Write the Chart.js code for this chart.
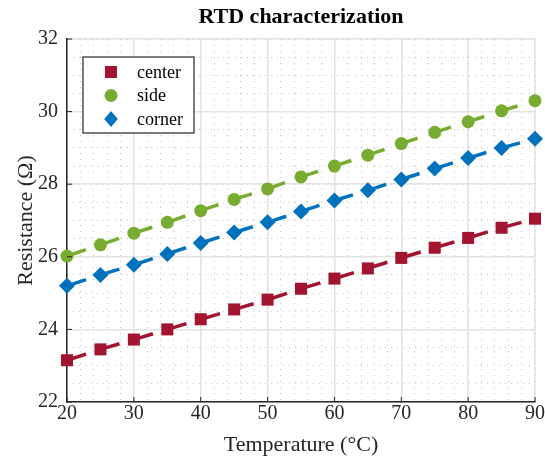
<!DOCTYPE html>
<html>
<head>
<meta charset="utf-8">
<script src="https://cdn.jsdelivr.net/npm/chart.js@4/dist/chart.umd.min.js"></script>
<style>
  html, body { margin: 0; padding: 0; background: #fff; }
  #wrap { width: 545px; height: 462px; }
</style>
</head>
<body>
<div id="wrap"><canvas id="rtdChart"></canvas></div>
<script>
const temperatures = [20, 25, 30, 35, 40, 45, 50, 55, 60, 65, 70, 75, 80, 85, 90];
const centerRes = [23.15, 23.45, 23.72, 24.0, 24.28, 24.55, 24.82, 25.12, 25.4, 25.68, 25.97, 26.25, 26.52, 26.8, 27.05];
const sideRes = [26.02, 26.33, 26.65, 26.95, 27.27, 27.58, 27.87, 28.2, 28.5, 28.8, 29.12, 29.43, 29.72, 30.02, 30.3];
const cornerRes = [25.2, 25.5, 25.78, 26.08, 26.38, 26.67, 26.95, 27.25, 27.55, 27.83, 28.13, 28.43, 28.72, 29.0, 29.25];
const seriesNames = ["center", "side", "corner"];
const seriesColors = ["#A2142F", "#77AC30", "#0072BD"];
const seriesShapes = ["rect", "circle", "rectRot"];
const seriesRadius = [8.5, 6.5, 8];

const FONT = "'Liberation Serif', 'Times New Roman', serif";

function toPoints(ys) {
  return temperatures.map((t, i) => ({ x: t, y: ys[i] }));
}

const allSeries = [centerRes, sideRes, cornerRes];
const datasets = allSeries.map((ys, i) => ({
  label: seriesNames[i],
  data: toPoints(ys),
  borderColor: seriesColors[i],
  backgroundColor: seriesColors[i],
  borderWidth: 3.5,
  borderDash: [20, 15],
  pointStyle: seriesShapes[i],
  pointRadius: seriesRadius[i],
  pointBorderWidth: 0,
  pointBackgroundColor: seriesColors[i],
  tension: 0,
  clip: false,
}));

// draws a point shape the same way for the legend
function drawMarker(ctx, shape, x, y, r, color) {
  ctx.save();
  ctx.fillStyle = color;
  ctx.beginPath();
  if (shape === "rect") {
    const s = Math.SQRT1_2 * r;
    ctx.rect(x - s, y - s, 2 * s, 2 * s);
  } else if (shape === "circle") {
    ctx.arc(x, y, r, 0, Math.PI * 2);
  } else {
    ctx.moveTo(x, y - r);
    ctx.lineTo(x + r * 0.85, y);
    ctx.lineTo(x, y + r);
    ctx.lineTo(x - r * 0.85, y);
    ctx.closePath();
  }
  ctx.fill();
  ctx.restore();
}

const titleAndLegend = {
  id: "titleAndLegend",
  afterDraw(chart) {
    const ctx = chart.ctx;
    const area = chart.chartArea;
    ctx.save();
    // title centred over the plot area
    ctx.fillStyle = "#000";
    ctx.font = "bold 22px " + FONT;
    ctx.textAlign = "center";
    ctx.textBaseline = "middle";
    ctx.fillText("RTD characterization", (area.left + area.right) / 2, 17);

    // small inward ticks on the axes, like the original
    const ys = chart.scales.y;
    ctx.strokeStyle = "#262626";
    ctx.lineWidth = 1;
    ys.ticks.forEach(t => {
      const py = ys.getPixelForValue(t.value);
      ctx.beginPath();
      ctx.moveTo(area.left, py);
      ctx.lineTo(area.left + 5, py);
      ctx.stroke();
    });
    const xs = chart.scales.x;
    xs.ticks.forEach(t => {
      const px = xs.getPixelForValue(t.value);
      ctx.beginPath();
      ctx.moveTo(px, area.bottom);
      ctx.lineTo(px, area.bottom - 5);
      ctx.stroke();
    });

    // legend box inside the axes
    const bx = 83, by = 57, bw = 111, bh = 76;
    ctx.fillStyle = "#fff";
    ctx.fillRect(bx, by, bw, bh);
    ctx.strokeStyle = "#262626";
    ctx.lineWidth = 1.2;
    ctx.strokeRect(bx, by, bw, bh);
    ctx.font = "18px " + FONT;
    ctx.textAlign = "left";
    chart.data.datasets.forEach((ds, i) => {
      const yy = by + 15 + i * 23.5;
      drawMarker(ctx, ds.pointStyle, 111, yy, ds.pointRadius, ds.backgroundColor);
      ctx.fillStyle = "#000";
      ctx.fillText(ds.label, 137, yy + 1);
    });
    ctx.restore();
  }
};

const tickFont = { family: FONT, size: 20 };
const titleFont = { family: FONT, size: 22 };

new Chart(document.getElementById("rtdChart"), {
  type: "line",
  data: { datasets: datasets },
  options: {
    responsive: true,
    maintainAspectRatio: false,
    animation: false,
    layout: { padding: { left: 0, right: 9, top: 39, bottom: 0 } },
    plugins: {
      legend: { display: false },
      title: { display: false },
      tooltip: { enabled: false },
    },
    scales: {
      xm: {
        type: "linear", position: "bottom", min: 20, max: 90, z: -1,
        ticks: { display: false, stepSize: 2 },
        grid: { color: "rgba(0,0,0,0.22)", lineWidth: 1, drawTicks: false },
        border: { display: false, dash: [1, 5] },
      },
      ym: {
        type: "linear", position: "left", min: 22, max: 32, z: -1,
        ticks: { display: false, stepSize: 0.5 },
        grid: { color: "rgba(0,0,0,0.22)", lineWidth: 1, drawTicks: false },
        border: { display: false, dash: [1, 5] },
      },
      x: {
        type: "linear", position: "bottom", min: 20, max: 90,
        ticks: { stepSize: 10, font: tickFont, color: "#262626", padding: 0, maxRotation: 0 },
        grid: { color: "#e2e2e2", lineWidth: 1.5, drawTicks: false },
        border: { display: true, color: "#262626", width: 1.5 },
        title: { display: true, text: "Temperature (°C)", font: titleFont, color: "#262626", padding: { top: 0, bottom: 4 } },
        afterFit(scale) { scale.height = 60; },
      },
      y: {
        type: "linear", position: "left", min: 22, max: 32,
        ticks: { stepSize: 2, font: tickFont, color: "#262626", padding: 9 },
        grid: { color: "#e2e2e2", lineWidth: 1.5, drawTicks: false },
        border: { display: true, color: "#262626", width: 1.5 },
        title: { display: true, text: "Resistance (Ω)", font: titleFont, color: "#262626", padding: { top: 13, bottom: 0 } },
        afterFit(scale) { scale.width = 67; },
      },
    },
  },
  plugins: [titleAndLegend],
});
</script>
</body>
</html>
